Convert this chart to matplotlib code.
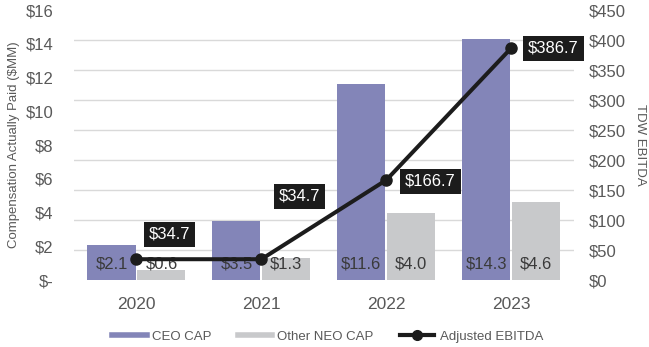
import numpy as np
import matplotlib
matplotlib.use('Agg')
from matplotlib import pyplot as plt
from matplotlib.lines import Line2D

plt.rcParams['font.family'] = ['Liberation Sans', 'DejaVu Sans']

# datos del grafico
anios = ['2020', '2021', '2022', '2023']
ceo_cap = [2.1, 3.5, 11.6, 14.3]
neo_cap = [0.6, 1.3, 4.0, 4.6]
ebitda = [34.7, 34.7, 166.7, 386.7]
ticks_izq = ['$-', '$2', '$4', '$6', '$8', '$10', '$12', '$14', '$16']
ticks_der = ['$0', '$50', '$100', '$150', '$200', '$250', '$300', '$350', '$400', '$450']

# posicion de las etiquetas negras (pixeles desde el punto)
offsets_ebitda = [(33, 25), (38, 63), (44, -1), (42, 0)]

col_ceo = '#8385b8'
col_neo = '#c8c9cb'
col_linea = '#1c1c1c'
col_texto = '#595959'


def main():
    fig = plt.figure(figsize=(6.49, 3.47), dpi=100)
    ax = fig.add_axes([0.114, 0.193, 0.770, 0.778])
    ax2 = ax.twinx()

    x = np.arange(len(anios))
    ancho = 0.385
    ax.bar(x - 0.2, ceo_cap, ancho, color=col_ceo, zorder=2)
    ax.bar(x + 0.2, neo_cap, ancho, color=col_neo, zorder=2)

    # etiquetas de las barras (abajo, dentro)
    for i in range(len(anios)):
        ax.annotate('${:.1f}'.format(ceo_cap[i]), (x[i] - 0.2, 0), xytext=(0, 16),
                    textcoords='offset pixels', ha='center', va='center',
                    fontsize=12, color='#3a3a3a', zorder=3)
        ax.annotate('${:.1f}'.format(neo_cap[i]), (x[i] + 0.2, 0), xytext=(0, 16),
                    textcoords='offset pixels', ha='center', va='center',
                    fontsize=12, color='#3a3a3a', zorder=3)

    ax.set_xlim(-0.5, 3.5)
    ax.set_ylim(0, 16)
    ax.set_yticks(np.arange(0, 17, 2))
    ax.set_yticklabels(ticks_izq)
    ax.set_xticks(x)
    ax.set_xticklabels(anios)

    # la cuadricula sigue al eje derecho
    ax.set_yticks(np.arange(0, 451, 50) * 16 / 450, minor=True)
    ax.grid(True, which='minor', axis='y', color='#d9d9d9', lw=1, zorder=0)
    ax.grid(False, which='major')
    ax.tick_params(axis='y', which='minor', length=0)
    ax.tick_params(axis='y', which='major', length=0, pad=15, labelsize=12, labelcolor=col_texto)
    ax.tick_params(axis='x', length=0, pad=12, labelsize=12.5, labelcolor=col_texto)
    ax.set_ylabel('Compensation Actually Paid ($MM)', fontsize=9.5, color=col_texto, labelpad=4)

    ax2.plot(x, ebitda, color=col_linea, lw=2.9, marker='o', markersize=8, zorder=4)
    for i in range(len(anios)):
        ax2.annotate('${:.1f}'.format(ebitda[i]), (x[i], ebitda[i]), xytext=offsets_ebitda[i],
                     textcoords='offset pixels', ha='center', va='center', fontsize=12,
                     color='white', bbox=dict(boxstyle='square,pad=0.3', fc=col_linea, ec='none'))
    ax2.set_ylim(0, 450)
    ax2.set_yticks(np.arange(0, 451, 50))
    ax2.set_yticklabels(ticks_der)
    ax2.tick_params(axis='y', length=0, pad=11, labelsize=12, labelcolor=col_texto)
    ax2.set_ylabel('TDW EBITDA', fontsize=9.5, color=col_texto, rotation=-90, labelpad=14)

    for a in (ax, ax2):
        for s in a.spines.values():
            s.set_visible(False)

    handles = [Line2D([], [], color=col_ceo, lw=4),
               Line2D([], [], color=col_neo, lw=4),
               Line2D([], [], color=col_linea, lw=3, marker='o', markersize=7)]
    fig.legend(handles, ['CEO CAP', 'Other NEO CAP', 'Adjusted EBITDA'], loc='center',
               bbox_to_anchor=(0.505, 0.03), ncol=3, frameon=False, fontsize=9.5,
               handlelength=2.6, handletextpad=0.4, columnspacing=2.0, labelcolor=col_texto)

    fig.savefig('out.png', dpi=100)


if __name__ == "__main__":
    main()
